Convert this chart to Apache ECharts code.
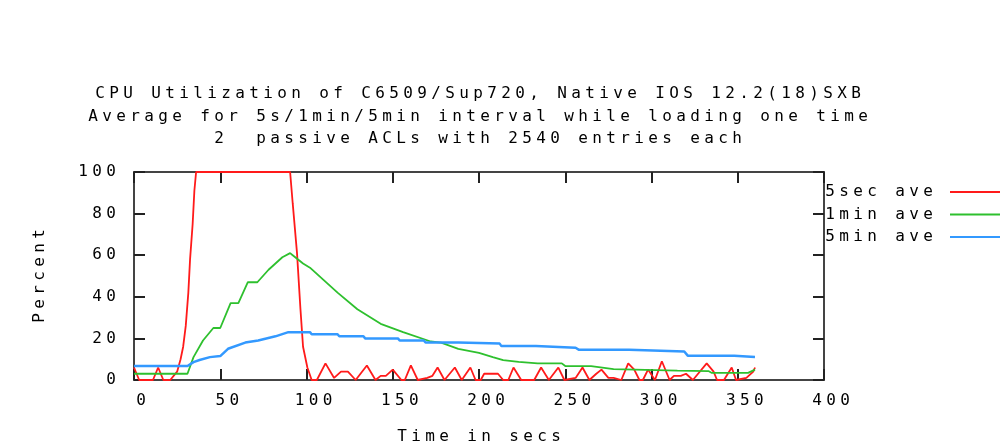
<!DOCTYPE html>
<html>
<head>
<meta charset="utf-8">
<script src="https://cdn.jsdelivr.net/npm/echarts@6/dist/echarts.min.js"></script>
<style>
  html, body { margin: 0; padding: 0; background: #fff; }
  #chart { width: 1000px; height: 446px; }
</style>
</head>
<body>
<div id="chart"></div>
<script>
// 标题与图例文字
const titleLines = [
  "CPU Utilization of C6509/Sup720, Native IOS 12.2(18)SXB",
  "Average for 5s/1min/5min interval while loading one time",
  "2  passive ACLs with 2540 entries each"
];
const seriesNames = ["5sec ave", "1min ave", "5min ave"];
const seriesColors = ["#ff1a1a", "#2ec02e", "#3399ff"];

// [secs, percent]
const fiveSec = [
  [0,6],[3,0],[11,0],[14,6],[17,0],[21,0],[25,4],[27,10],[28.5,16],[30,26],[31.5,42],[32.5,58],
  [34,75],[35,91],[36,100],[90.5,100],[92,85],[94.5,61],[96.5,34],[98,16],[100.5,6],[103,0],
  [106,0],[111,8],[116,1],[120,4],[124,4],[128.5,0],[135,7],[140,0],[143,2],[146,2],[150,5],
  [155,0],[157,0],[160.5,7],[164.5,0],[170,1],[173,2],[176,6],[180,0],[186,6],[190,0],[195,6],
  [198,0],[201,0],[203,3],[211,3],[214,0],[217,0],[220,6],[224.5,0],[232,0],[236,6],[240.5,0],
  [246,6],[249.5,0],[256,1],[260,6],[264,0],[268,3],[271,5],[275,1],[278,1],[282.5,0],[286.5,8],
  [290,5],[293,0],[295,0],[298,5],[302,0],[306,9],[310.5,0],[313,2],[317,2],[320,3],[324,0],
  [327,3],[332,8],[336,4],[338,0],[342,0],[346.5,6],[349,0],[355,1],[359,4],[360,6]
];
const oneMin = [
  [0,3],[31,3],[34.5,11],[40,19],[46,25],[50,25],[56,37],[60.5,37],[66,47],[71.5,47],[78,53],
  [86,59],[90.5,61],[92,60],[98,56],[102,54],[110,48],[118,42],[129.5,34],[143,27],[156,23],
  [172,18.5],[178,18],[188,15],[200,13],[208,11],[214,9.6],[223,8.7],[234,8],[248,8],[250,6.7],
  [265,6.7],[278,5.2],[315,4.5],[333,4.3],[335,3.4],[356,3.4],[360,5]
];
const fiveMin = [
  [0,6.7],[31,6.7],[34.5,8.6],[38,9.6],[44,11],[50,11.5],[54.5,15],[64.5,18],[72,19],[82,21],
  [89.5,23],[102,23],[103,22],[118,22],[119,21],[133,21],[134,20],[153,20],[154,19],[168,19],
  [169,18],[188,18],[189,17.5],[212,17.5],[213,16.3],[233,16.3],[234,15.5],[256,15.5],[258,14.5],
  [287,14.5],[288,13.7],[319,13.7],[321,11.7],[348,11.7],[349,11],[360,11]
];

const FONT = "DejaVu Sans Mono";
// 等宽像素字体的字距，每个字符一格
const rich = {
  c: { width: 14, align: "center", fontFamily: FONT, fontSize: 16, fontWeight: "normal", lineHeight: 16, color: "#000" },
  g: { width: 10 }
};
function spaced(s) {
  return String(s).split("").map(ch => "{c|" + (ch === " " ? "\u00a0" : ch) + "}").join("");
}

const chart = echarts.init(document.getElementById("chart"), null, { renderer: "canvas" });

const axisLine = { show: true, onZero: false, lineStyle: { color: "#444", width: 2 } };
const axisTick = { show: true, inside: true, length: 11, lineStyle: { color: "#222", width: 2 } };

chart.setOption({
  animation: false,
  backgroundColor: "#fff",
  title: titleLines.map((t, i) => ({
    text: spaced(t),
    left: 478,
    textAlign: "center",
    top: 86 + i * 22.5,
    padding: 0,
    textStyle: { fontWeight: "normal", rich }
  })),
  legend: {
    data: seriesNames,
    orient: "vertical",
    align: "right",
    left: 823,
    top: 184,
    padding: 0,
    itemGap: 6.5,
    itemWidth: 60,
    itemHeight: 2,
    icon: "rect",
    formatter: n => spaced(n) + "{g|}",
    textStyle: { rich }
  },
  grid: { left: 134, right: 176, top: 172, bottom: 66, outerBoundsMode: "none" },
  xAxis: [
    {
      type: "value", min: 0, max: 400, interval: 50,
      name: spaced("Time in secs"), nameLocation: "middle", nameGap: 49,
      nameTextStyle: { rich },
      axisLine, axisTick, splitLine: { show: false },
      axisLabel: { margin: 13, padding: [0, 0, 0, 14], formatter: v => spaced(v), rich }
    },
    {
      type: "value", position: "top", min: 0, max: 400, interval: 50,
      axisLine, axisTick, splitLine: { show: false }, axisLabel: { show: false }
    }
  ],
  yAxis: [
    {
      type: "value", min: 0, max: 100, interval: 20,
      name: spaced("Percent"), nameLocation: "middle", nameGap: 86,
      nameTextStyle: { rich },
      axisLine, axisTick, splitLine: { show: false },
      axisLabel: { margin: 16, formatter: v => spaced(v), rich }
    },
    {
      type: "value", position: "right", min: 0, max: 100, interval: 20,
      axisLine, axisTick, splitLine: { show: false }, axisLabel: { show: false }
    }
  ],
  series: [fiveSec, oneMin, fiveMin].map((d, i) => ({
    name: seriesNames[i],
    type: "line",
    data: d,
    symbol: "none",
    color: seriesColors[i],
    lineStyle: { color: seriesColors[i], width: i === 2 ? 2.5 : 1.8 },
    itemStyle: { color: seriesColors[i] }
  }))
});
</script>
</body>
</html>
